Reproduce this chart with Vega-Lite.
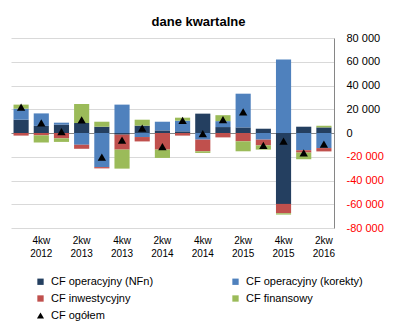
{
  "$schema": "https://vega.github.io/schema/vega-lite/v6.json",
  "width": 323,
  "height": 190,
  "autosize": {"type": "none"},
  "padding": {"left": 11, "top": 38, "right": 64, "bottom": 102},
  "background": "white",
  "title": {"text": "dane kwartalne", "anchor": "middle", "dx": 26, "fontSize": 13, "font": "Liberation Sans", "fontWeight": "bold", "offset": 3, "color": "black"},
  "config": {
    "view": {"stroke": null},
    "font": "Liberation Sans",
    "legend": {"padding": 0}
  },
  "datasets": {
    "bars": [
      {"q": "3kw 2012", "s": "CF operacyjny (NFn)", "v": 11200},
      {"q": "3kw 2012", "s": "CF operacyjny (korekty)", "v": 9300},
      {"q": "3kw 2012", "s": "CF inwestycyjny", "v": -2200},
      {"q": "3kw 2012", "s": "CF finansowy", "v": 3400},
      {"q": "4kw 2012", "s": "CF operacyjny (NFn)", "v": 6000},
      {"q": "4kw 2012", "s": "CF operacyjny (korekty)", "v": 10500},
      {"q": "4kw 2012", "s": "CF inwestycyjny", "v": -2000},
      {"q": "4kw 2012", "s": "CF finansowy", "v": -6000},
      {"q": "1kw 2013", "s": "CF operacyjny (NFn)", "v": 7000},
      {"q": "1kw 2013", "s": "CF operacyjny (korekty)", "v": 1700},
      {"q": "1kw 2013", "s": "CF inwestycyjny", "v": -4500},
      {"q": "1kw 2013", "s": "CF finansowy", "v": -3000},
      {"q": "2kw 2013", "s": "CF operacyjny (NFn)", "v": 8400},
      {"q": "2kw 2013", "s": "CF operacyjny (korekty)", "v": -9900},
      {"q": "2kw 2013", "s": "CF inwestycyjny", "v": -3400},
      {"q": "2kw 2013", "s": "CF finansowy", "v": 16000},
      {"q": "3kw 2013", "s": "CF operacyjny (NFn)", "v": 5300},
      {"q": "3kw 2013", "s": "CF operacyjny (korekty)", "v": -28700},
      {"q": "3kw 2013", "s": "CF inwestycyjny", "v": -1100},
      {"q": "3kw 2013", "s": "CF finansowy", "v": 4200},
      {"q": "4kw 2013", "s": "CF operacyjny (NFn)", "v": -1400},
      {"q": "4kw 2013", "s": "CF operacyjny (korekty)", "v": 23900},
      {"q": "4kw 2013", "s": "CF inwestycyjny", "v": -12600},
      {"q": "4kw 2013", "s": "CF finansowy", "v": -16000},
      {"q": "1kw 2014", "s": "CF operacyjny (NFn)", "v": 6200},
      {"q": "1kw 2014", "s": "CF operacyjny (korekty)", "v": -3400},
      {"q": "1kw 2014", "s": "CF inwestycyjny", "v": -3700},
      {"q": "1kw 2014", "s": "CF finansowy", "v": 5000},
      {"q": "2kw 2014", "s": "CF operacyjny (NFn)", "v": 2200},
      {"q": "2kw 2014", "s": "CF operacyjny (korekty)", "v": 7300},
      {"q": "2kw 2014", "s": "CF inwestycyjny", "v": -14000},
      {"q": "2kw 2014", "s": "CF finansowy", "v": -7000},
      {"q": "3kw 2014", "s": "CF operacyjny (NFn)", "v": 1400},
      {"q": "3kw 2014", "s": "CF operacyjny (korekty)", "v": 9000},
      {"q": "3kw 2014", "s": "CF inwestycyjny", "v": -2200},
      {"q": "3kw 2014", "s": "CF finansowy", "v": 2500},
      {"q": "4kw 2014", "s": "CF operacyjny (NFn)", "v": 16300},
      {"q": "4kw 2014", "s": "CF operacyjny (korekty)", "v": -5600},
      {"q": "4kw 2014", "s": "CF inwestycyjny", "v": -9800},
      {"q": "4kw 2014", "s": "CF finansowy", "v": -1400},
      {"q": "1kw 2015", "s": "CF operacyjny (NFn)", "v": 5000},
      {"q": "1kw 2015", "s": "CF operacyjny (korekty)", "v": 5000},
      {"q": "1kw 2015", "s": "CF inwestycyjny", "v": -3700},
      {"q": "1kw 2015", "s": "CF finansowy", "v": 5000},
      {"q": "2kw 2015", "s": "CF operacyjny (NFn)", "v": 4700},
      {"q": "2kw 2015", "s": "CF operacyjny (korekty)", "v": 28400},
      {"q": "2kw 2015", "s": "CF inwestycyjny", "v": -7000},
      {"q": "2kw 2015", "s": "CF finansowy", "v": -8400},
      {"q": "3kw 2015", "s": "CF operacyjny (NFn)", "v": 3600},
      {"q": "3kw 2015", "s": "CF operacyjny (korekty)", "v": -5600},
      {"q": "3kw 2015", "s": "CF inwestycyjny", "v": -4800},
      {"q": "3kw 2015", "s": "CF finansowy", "v": -3600},
      {"q": "4kw 2015", "s": "CF operacyjny (NFn)", "v": -59700},
      {"q": "4kw 2015", "s": "CF operacyjny (korekty)", "v": 61900},
      {"q": "4kw 2015", "s": "CF inwestycyjny", "v": -7900},
      {"q": "4kw 2015", "s": "CF finansowy", "v": -1100},
      {"q": "1kw 2016", "s": "CF operacyjny (NFn)", "v": 5300},
      {"q": "1kw 2016", "s": "CF operacyjny (korekty)", "v": -14500},
      {"q": "1kw 2016", "s": "CF inwestycyjny", "v": -2000},
      {"q": "1kw 2016", "s": "CF finansowy", "v": -5600},
      {"q": "2kw 2016", "s": "CF operacyjny (NFn)", "v": 4700},
      {"q": "2kw 2016", "s": "CF operacyjny (korekty)", "v": -12700},
      {"q": "2kw 2016", "s": "CF inwestycyjny", "v": -2800},
      {"q": "2kw 2016", "s": "CF finansowy", "v": 1400}
    ],
    "total": [
      {"q": "3kw 2012", "v": 21700},
      {"q": "4kw 2012", "v": 8500},
      {"q": "1kw 2013", "v": 1200},
      {"q": "2kw 2013", "v": 11100},
      {"q": "3kw 2013", "v": -20300},
      {"q": "4kw 2013", "v": -6100},
      {"q": "1kw 2014", "v": 4100},
      {"q": "2kw 2014", "v": -11500},
      {"q": "3kw 2014", "v": 10700},
      {"q": "4kw 2014", "v": -500},
      {"q": "1kw 2015", "v": 11300},
      {"q": "2kw 2015", "v": 17700},
      {"q": "3kw 2015", "v": -10400},
      {"q": "4kw 2015", "v": -6800},
      {"q": "1kw 2016", "v": -16800},
      {"q": "2kw 2016", "v": -9400}
    ]
  },
  "encoding": {
    "x": {
      "field": "q", "type": "nominal", "sort": null,
      "scale": {"paddingInner": 0.25, "paddingOuter": 0.125},
      "axis": {
        "title": null,
        "values": ["4kw 2012", "2kw 2013", "4kw 2013", "2kw 2014", "4kw 2014", "2kw 2015", "4kw 2015", "2kw 2016"],
        "labelExpr": "split(datum.label, ' ')",
        "labelAngle": 0, "ticks": false, "domain": false, "grid": false,
        "labelPadding": 7, "labelFontSize": 10, "labelLineHeight": 13,
        "labelColor": "black", "labelBaseline": "top"
      }
    },
    "y": {
      "field": "v", "type": "quantitative",
      "scale": {"domain": [-80000, 80000], "nice": false},
      "axis": {
        "orient": "right", "title": null,
        "values": [-80000, -60000, -40000, -20000, 0, 20000, 40000, 60000, 80000],
        "grid": true,
        "gridColor": {"condition": {"test": "datum.value === 0", "value": "#868686"}, "value": "#D9D9D9"},
        "ticks": false, "domain": true, "domainColor": "#868686",
        "labelPadding": 12, "labelFontSize": 11, "labelOverlap": false,
        "labelExpr": "(datum.value < 0 ? '-' : '') + replace(format(abs(datum.value), ','), ',', ' ')",
        "labelColor": {"condition": {"test": "datum.value < 0", "value": "#FF0000"}, "value": "black"}
      }
    }
  },
  "layer": [
    {
      "data": {"name": "bars"},
      "transform": [
        {"calculate": "indexof(['CF operacyjny (NFn)','CF operacyjny (korekty)','CF inwestycyjny','CF finansowy'], datum.s)", "as": "ord"}
      ],
      "mark": {"type": "bar"},
      "encoding": {
        "y": {
          "field": "v", "type": "quantitative", "stack": "zero",
          "scale": {"domain": [-80000, 80000], "nice": false},
          "axis": {
            "orient": "right", "title": null,
            "values": [-80000, -60000, -40000, -20000, 0, 20000, 40000, 60000, 80000],
            "grid": true,
            "gridColor": {"condition": {"test": "datum.value === 0", "value": "#868686"}, "value": "#D9D9D9"},
            "ticks": false, "domain": true, "domainColor": "#868686",
            "labelPadding": 12, "labelFontSize": 11, "labelOverlap": false,
            "labelExpr": "(datum.value < 0 ? '-' : '') + replace(format(abs(datum.value), ','), ',', ' ')",
            "labelColor": {"condition": {"test": "datum.value < 0", "value": "#FF0000"}, "value": "black"}
          }
        },
        "color": {
          "field": "s", "type": "nominal",
          "scale": {
            "domain": ["CF operacyjny (NFn)", "CF operacyjny (korekty)", "CF inwestycyjny", "CF finansowy"],
            "range": ["#243F60", "#4F81BD", "#C0504D", "#9BBB59"]
          },
          "legend": {
            "orient": "none", "legendX": 24, "legendY": 238, "title": null,
            "columns": 2, "direction": "horizontal", "columnPadding": 76, "rowPadding": 5,
            "symbolType": "square", "symbolSize": 40, "symbolStrokeWidth": 0,
            "labelFontSize": 11, "labelColor": "black", "labelOffset": 5
          }
        },
        "order": {"field": "ord", "type": "quantitative"}
      }
    },
    {
      "data": {"name": "total"},
      "mark": {"type": "point", "filled": true, "color": "black", "size": 70, "opacity": 1},
      "encoding": {
        "shape": {
          "datum": "CF ogółem",
          "scale": {"range": ["triangle-up"]},
          "legend": {
            "orient": "none", "legendX": 24, "legendY": 272, "title": null,
            "symbolSize": 50, "symbolFillColor": "black", "symbolStrokeColor": "black",
            "labelFontSize": 11, "labelColor": "black", "labelOffset": 5
          }
        }
      }
    }
  ]
}
